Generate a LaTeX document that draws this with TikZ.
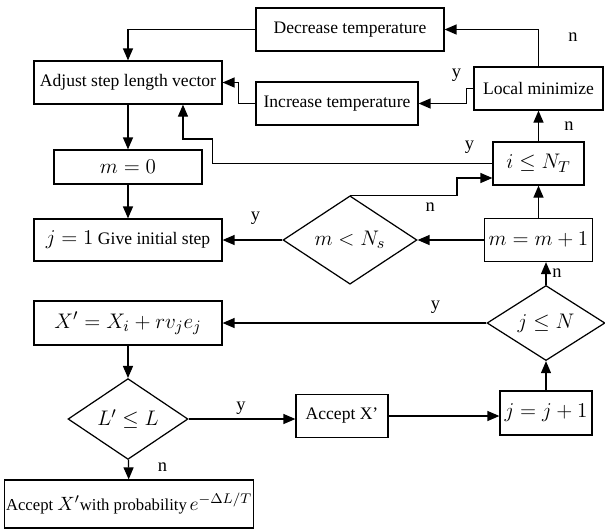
\documentclass[tikz,border=0pt]{standalone}
\usepackage{amsmath}
\usepackage{fontspec}
\setmainfont{Liberation Serif}
\usepackage{tikz}
\usetikzlibrary{arrows.meta,positioning,calc,shapes.geometric}

\newcommand{\mbig}[2][12.5]{{\fontsize{#1}{14}\selectfont$#2$}}

\begin{document}
\begin{tikzpicture}[
  x=0.02cm, y=-0.02cm,
  font=\fontsize{10}{12}\selectfont,
  box/.style={
    draw,
    line width=0.7pt,
    inner sep=1pt,
    align=center,
    minimum width=#1,
    minimum height=0.86cm
  },
  box/.default=3.76cm,
  decision/.style 2 args={
    diamond,
    draw,
    line width=0.7pt,
    inner sep=0pt,
    minimum width=#1,
    minimum height=#2
  },
  arr/.style={
    -{Triangle[length=0.24cm, width=0.2cm]},
    line width=0.7pt
  },
  lbl/.style={font=\fontsize{10.5}{12}\selectfont, inner sep=1pt}
]
  \useasboundingbox (0,0) rectangle (605,529);

  % left column
  \node[box] (adj) at (128,82.5) {Adjust step length vector};
  \node[box=2.96cm, minimum height=0.68cm] (m0) at (128,167) {\mbig{m = 0}};
  \node[box, minimum height=0.84cm] (j1) at (128,240) {\mbig{j = 1} Give initial step};
  \node[box, minimum height=0.88cm] (Xp) at (128,323) {\mbig{X' = X_i + r v_j e_j}};
  \node[decision={2.4cm}{1.24cm}] (Lp) at (128,419) {\mbig{L' \le L}};
  \node[box=4.84cm, minimum height=0.96cm, font=\fontsize{9.5}{11}\selectfont] (accP) at (129,504)
    {Accept \mbig[11]{X'}with probability\,\mbig[11]{e^{-\Delta L/T}}};

  % temperature boxes
  \node[box] (dec) at (350,29.5) {Decrease temperature};
  \node[box=3.24cm] (inc) at (337,103.5) {Increase temperature};
  \node[decision={2.68cm}{1.6cm}] (mNs) at (350,240) {\mbig{m < N_s}};
  \node[box=1.84cm] (accX) at (342,416) {Accept X’};

  % right column
  \node[box=2.58cm] (lmin) at (538.5,88.5) {Local minimize};
  \node[box=1.82cm] (iNT) at (538.5,163.5) {\mbig{i \le N_T}};
  \node[box=2.16cm] (mpp) at (538.5,240) {\mbig{m = m + 1}};
  \node[decision={2.36cm}{1.44cm}] (jN) at (546,323) {\mbig{j \le N}};
  \node[box=1.84cm, minimum height=0.88cm] (jpp) at (546,413) {\mbig{j = j + 1}};

  \draw[arr] (dec.west) -| (adj.north);
  \draw[arr] (inc.west) -- ++(-17,0) |- (adj.east);
  \draw[arr] (lmin.north) |- node[lbl, pos=0.39, xshift=0.69cm] {n} (dec.east);
  \draw[arr] (lmin.west) -- node[lbl, xshift=-0.27cm, yshift=0.27cm] {y} ++(-7,0) |- (inc.east);
  \draw[arr] (iNT.north) -- node[lbl, xshift=0.61cm] {n} (lmin.south);
  \draw[arr] (iNT.west) -- node[lbl, pos=0.082, yshift=0.33cm] {y} ++(-280,0)
    -- ++(0,-24.5) -| ([xshift=1.1cm]adj.south);

  \draw[arr] (adj) -- (m0);
  \draw[arr] (m0) -- (j1);
  \draw[arr] (mNs.west) -- node[lbl, pos=0.45, yshift=0.44cm] {y} (j1.east);
  \draw[arr] (mNs.north) -- node[lbl, pos=0.75, yshift=-0.24cm] {n} ++(107,0)
    |- ([yshift=-0.29cm]iNT.west);
  \draw[arr] (mpp.west) -- (mNs.east);
  \draw[arr] (mpp) -- (iNT);
  \draw[arr] (jN.north) -- node[lbl, xshift=0.22cm] {n} (jN.north |- mpp.south);
  \draw[arr] (jN.west) -- node[lbl, pos=0.193, yshift=0.32cm] {y} (Xp.east);

  \draw[arr] (Xp) -- (Lp);
  \draw[arr] (Lp.east) -- node[lbl, pos=0.49, yshift=0.22cm] {y} (Lp.east -| accX.west);
  \draw[arr] (accX.east) -- (accX.east -| jpp.west);
  \draw[arr] (jpp) -- (jN);
  \draw[arr] (Lp) -- node[lbl, pos=0.4, xshift=0.68cm] {n} (accP);
\end{tikzpicture}
\end{document}
